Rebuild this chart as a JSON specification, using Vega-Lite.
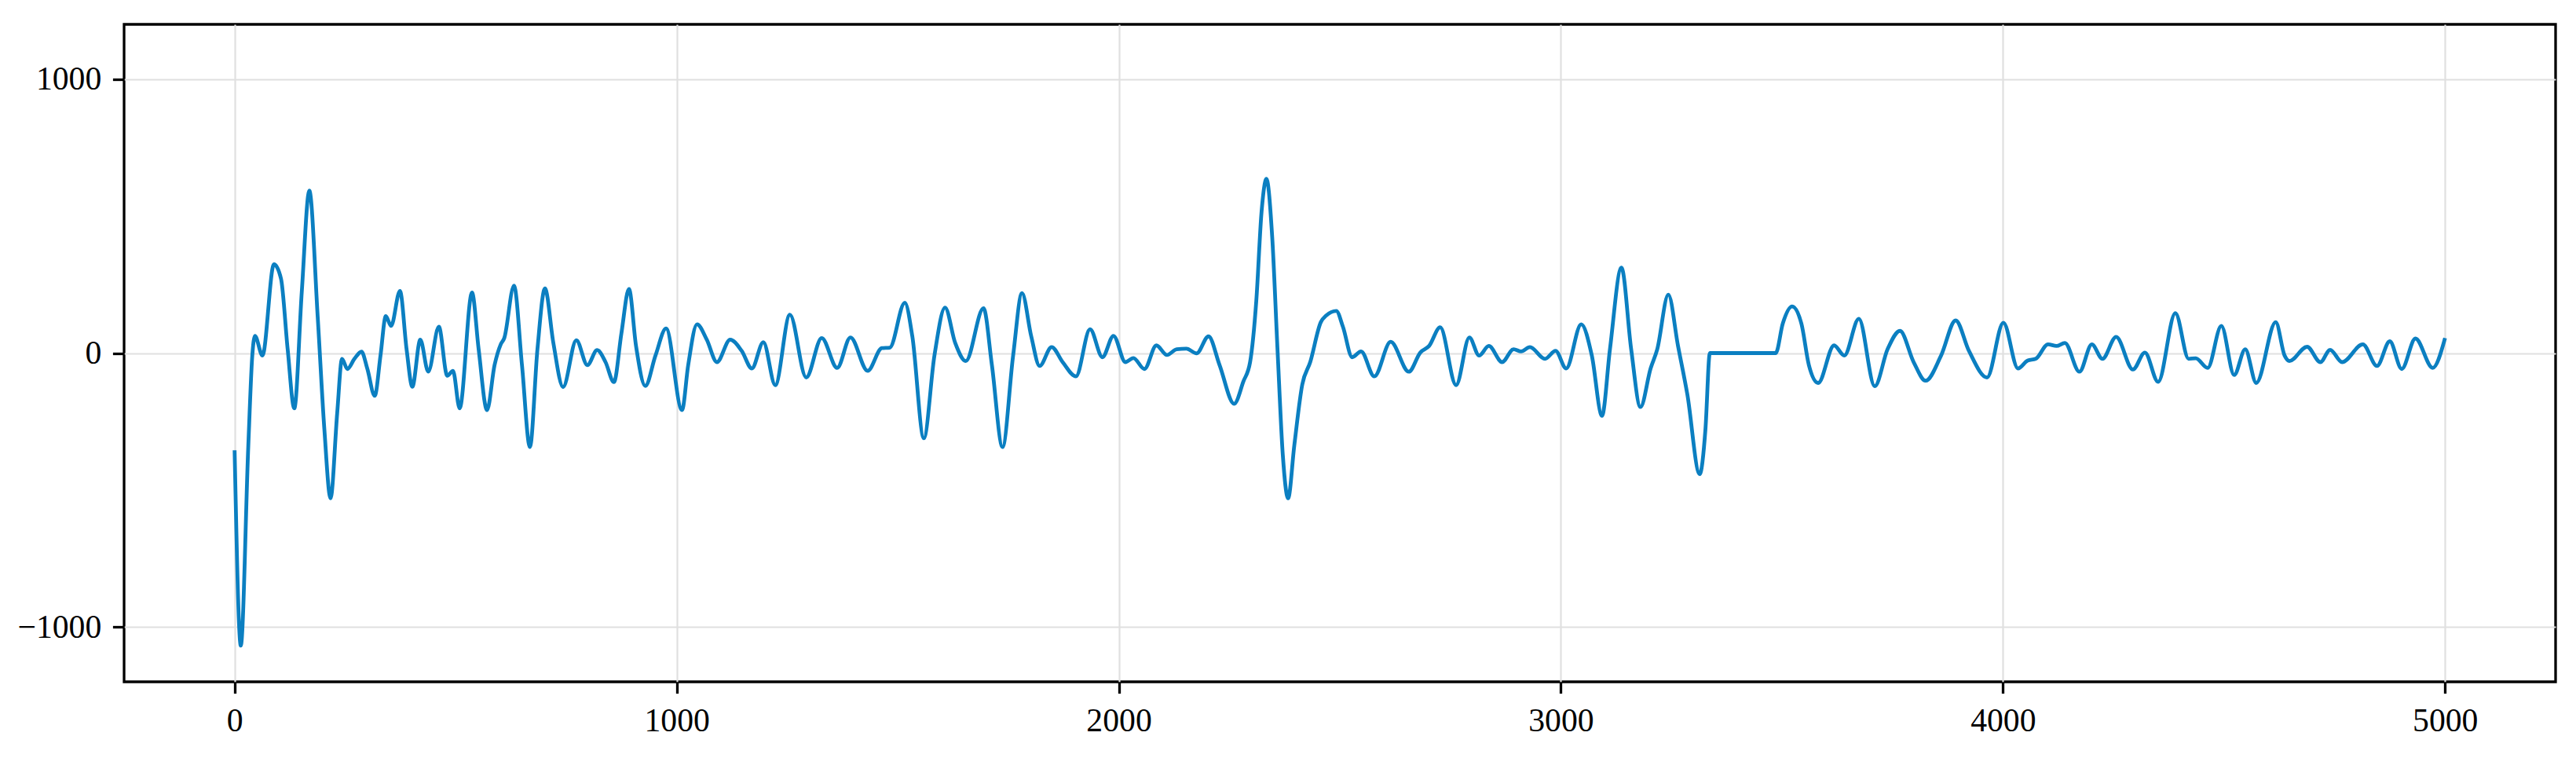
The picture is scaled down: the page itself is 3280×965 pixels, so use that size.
{
  "$schema": "https://vega.github.io/schema/vega-lite/v6.json",
  "width": 3096,
  "height": 837,
  "autosize": {"type": "none"},
  "padding": {"left": 158, "top": 31, "right": 26, "bottom": 97},
  "background": "white",
  "config": {
    "view": {"stroke": "black", "strokeWidth": 3.3},
    "axis": {
      "domain": false,
      "grid": true,
      "gridColor": "#e0e0e0",
      "gridWidth": 2.2,
      "ticks": true,
      "tickColor": "black",
      "tickWidth": 3.3,
      "tickSize": 14.6,
      "labelFont": "Liberation Serif",
      "labelFontSize": 41.7,
      "labelColor": "black",
      "labelPadding": 14.6,
      "title": null
    }
  },
  "data": {
    "values": [
      {"t": 0, "v": -355}, {"t": 14, "v": -1068}, {"t": 31, "v": -337}, {"t": 40, "v": -9}, {"t": 46, "v": 63},
      {"t": 63, "v": -9}, {"t": 89, "v": 324}, {"t": 105, "v": 271}, {"t": 120, "v": 14}, {"t": 135, "v": -202},
      {"t": 152, "v": 225}, {"t": 169, "v": 593}, {"t": 188, "v": 131}, {"t": 203, "v": -278}, {"t": 217, "v": -530},
      {"t": 232, "v": -220}, {"t": 243, "v": -21}, {"t": 255, "v": -58}, {"t": 271, "v": -21}, {"t": 287, "v": 5},
      {"t": 300, "v": -56}, {"t": 317, "v": -156}, {"t": 330, "v": -9}, {"t": 342, "v": 135}, {"t": 354, "v": 99},
      {"t": 374, "v": 227}, {"t": 389, "v": 14}, {"t": 402, "v": -123}, {"t": 420, "v": 49}, {"t": 438, "v": -68},
      {"t": 462, "v": 96}, {"t": 481, "v": -83}, {"t": 494, "v": -65}, {"t": 509, "v": -202}, {"t": 537, "v": 221},
      {"t": 552, "v": 14}, {"t": 571, "v": -208}, {"t": 588, "v": -44}, {"t": 602, "v": 32}, {"t": 610, "v": 55},
      {"t": 632, "v": 246}, {"t": 650, "v": -44}, {"t": 668, "v": -343}, {"t": 685, "v": 14}, {"t": 702, "v": 236},
      {"t": 721, "v": 37}, {"t": 743, "v": -124}, {"t": 773, "v": 47}, {"t": 798, "v": -44}, {"t": 820, "v": 11},
      {"t": 839, "v": -33}, {"t": 858, "v": -106}, {"t": 875, "v": 73}, {"t": 892, "v": 234}, {"t": 908, "v": 26},
      {"t": 929, "v": -120}, {"t": 952, "v": -9}, {"t": 976, "v": 90}, {"t": 1012, "v": -208}, {"t": 1026, "v": -44},
      {"t": 1046, "v": 105}, {"t": 1068, "v": 49}, {"t": 1091, "v": -33}, {"t": 1121, "v": 49}, {"t": 1147, "v": 8},
      {"t": 1170, "v": -56}, {"t": 1196, "v": 40}, {"t": 1223, "v": -117}, {"t": 1256, "v": 140}, {"t": 1293, "v": -89},
      {"t": 1328, "v": 55}, {"t": 1363, "v": -54}, {"t": 1393, "v": 57}, {"t": 1432, "v": -65}, {"t": 1464, "v": 18},
      {"t": 1482, "v": 20}, {"t": 1516, "v": 184}, {"t": 1533, "v": 61}, {"t": 1559, "v": -311}, {"t": 1583, "v": -9},
      {"t": 1607, "v": 166}, {"t": 1630, "v": 37}, {"t": 1654, "v": -29}, {"t": 1694, "v": 164}, {"t": 1713, "v": -44},
      {"t": 1737, "v": -343}, {"t": 1761, "v": -9}, {"t": 1781, "v": 219}, {"t": 1802, "v": 61}, {"t": 1821, "v": -47},
      {"t": 1848, "v": 22}, {"t": 1873, "v": -33}, {"t": 1903, "v": -85}, {"t": 1935, "v": 87}, {"t": 1963, "v": -15},
      {"t": 1988, "v": 63}, {"t": 2015, "v": -33}, {"t": 2033, "v": -18}, {"t": 2058, "v": -58}, {"t": 2085, "v": 28},
      {"t": 2109, "v": -7}, {"t": 2131, "v": 14}, {"t": 2153, "v": 16}, {"t": 2176, "v": -1}, {"t": 2203, "v": 61},
      {"t": 2228, "v": -44}, {"t": 2261, "v": -185}, {"t": 2282, "v": -103}, {"t": 2297, "v": -33}, {"t": 2311, "v": 190},
      {"t": 2323, "v": 517}, {"t": 2334, "v": 636}, {"t": 2347, "v": 424}, {"t": 2359, "v": 14}, {"t": 2371, "v": -372},
      {"t": 2383, "v": -530}, {"t": 2397, "v": -337}, {"t": 2415, "v": -115}, {"t": 2433, "v": -33}, {"t": 2457, "v": 113},
      {"t": 2469, "v": 137}, {"t": 2492, "v": 154}, {"t": 2507, "v": 96}, {"t": 2528, "v": -15}, {"t": 2548, "v": 6},
      {"t": 2578, "v": -85}, {"t": 2615, "v": 41}, {"t": 2656, "v": -68}, {"t": 2682, "v": 2}, {"t": 2702, "v": 26},
      {"t": 2727, "v": 94}, {"t": 2763, "v": -117}, {"t": 2793, "v": 57}, {"t": 2815, "v": -9}, {"t": 2837, "v": 26},
      {"t": 2867, "v": -33}, {"t": 2893, "v": 14}, {"t": 2910, "v": 6}, {"t": 2930, "v": 22}, {"t": 2964, "v": -21},
      {"t": 2988, "v": 8}, {"t": 3012, "v": -56}, {"t": 3046, "v": 105}, {"t": 3070, "v": -9}, {"t": 3093, "v": -229},
      {"t": 3111, "v": 14}, {"t": 3137, "v": 312}, {"t": 3159, "v": 14}, {"t": 3180, "v": -197}, {"t": 3203, "v": -56},
      {"t": 3218, "v": 14}, {"t": 3243, "v": 213}, {"t": 3265, "v": 26}, {"t": 3286, "v": -150}, {"t": 3314, "v": -442},
      {"t": 3327, "v": -278}, {"t": 3337, "v": 0}, {"t": 3486, "v": 0}, {"t": 3502, "v": 108}, {"t": 3523, "v": 170},
      {"t": 3544, "v": 108}, {"t": 3561, "v": -44}, {"t": 3582, "v": -109}, {"t": 3618, "v": 28}, {"t": 3641, "v": -9},
      {"t": 3674, "v": 125}, {"t": 3710, "v": -121}, {"t": 3739, "v": 14}, {"t": 3767, "v": 81}, {"t": 3798, "v": -33},
      {"t": 3825, "v": -101}, {"t": 3860, "v": -9}, {"t": 3893, "v": 119}, {"t": 3923, "v": 8}, {"t": 3964, "v": -89},
      {"t": 4001, "v": 111}, {"t": 4034, "v": -56}, {"t": 4056, "v": -27}, {"t": 4074, "v": -21}, {"t": 4102, "v": 32},
      {"t": 4121, "v": 26}, {"t": 4140, "v": 37}, {"t": 4173, "v": -68}, {"t": 4201, "v": 32}, {"t": 4225, "v": -21},
      {"t": 4256, "v": 59}, {"t": 4294, "v": -60}, {"t": 4321, "v": 2}, {"t": 4351, "v": -105}, {"t": 4390, "v": 146},
      {"t": 4420, "v": -21}, {"t": 4436, "v": -19}, {"t": 4463, "v": -54}, {"t": 4494, "v": 99}, {"t": 4523, "v": -80},
      {"t": 4548, "v": 14}, {"t": 4573, "v": -109}, {"t": 4617, "v": 113}, {"t": 4637, "v": -9}, {"t": 4648, "v": -29},
      {"t": 4688, "v": 23}, {"t": 4718, "v": -33}, {"t": 4740, "v": 12}, {"t": 4767, "v": -33}, {"t": 4814, "v": 32},
      {"t": 4846, "v": -47}, {"t": 4875, "v": 43}, {"t": 4902, "v": -58}, {"t": 4933, "v": 53}, {"t": 4972, "v": -54},
      {"t": 5000, "v": 55}
    ]
  },
  "mark": {"type": "line", "interpolate": "monotone", "color": "#0b7fc1", "strokeWidth": 4.8, "strokeJoin": "round", "strokeCap": "butt"},
  "encoding": {
    "x": {
      "field": "t",
      "type": "quantitative",
      "scale": {"domain": [-250, 5250], "nice": false, "zero": false},
      "axis": {"values": [0, 1000, 2000, 3000, 4000, 5000], "format": "d", "labelFlush": false}
    },
    "y": {
      "field": "v",
      "type": "quantitative",
      "scale": {"domain": [-1200, 1200], "nice": false, "zero": false},
      "axis": {"values": [-1000, 0, 1000], "format": "d", "labelBaseline": "middle"}
    }
  }
}
